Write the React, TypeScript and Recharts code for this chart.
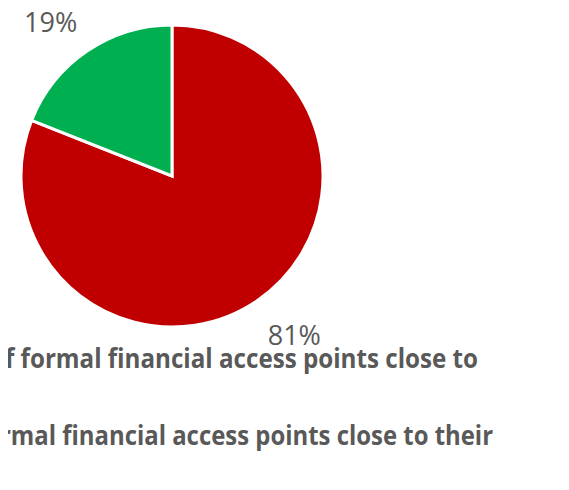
import { PieChart, Pie, Cell, Legend } from 'recharts'

const sliceNames = ['Red share', 'Green share']
const sliceValues = [81, 19]
const sliceColors = ['#C00000', '#00B050']
const legendLabels = [
  'of formal financial access points close to',
  'rmal financial access points close to their',
]

const data = sliceNames.map((name, i) => ({ name, value: sliceValues[i] }))

const RADIAN = Math.PI / 180

function PctLabel(props: any) {
  const { cx, cy, midAngle, outerRadius, value } = props
  const r = outerRadius + 14
  const cos = Math.cos(-midAngle * RADIAN)
  const sin = Math.sin(-midAngle * RADIAN)
  const x = cx + r * cos + (cos >= 0 ? 3 : -2)
  const y = cy + r * sin + (sin >= 0 ? 9 : -8)
  return (
    <text
      x={x}
      y={y}
      textAnchor={cos >= 0 ? 'start' : 'end'}
      dominantBaseline={sin >= 0 ? 'hanging' : 'auto'}
      fill="#595959"
      fontSize={27}
      fontFamily="'Open Sans', sans-serif"
    >
      {`${value}%`}
    </text>
  )
}

function LegendLines() {
  return (
    <svg width={569} height={150} style={{ display: 'block', overflow: 'hidden' }}>
      <text
        x={-10}
        y={28}
        fill="#595959"
        fontSize={26}
        fontWeight="bold"
        fontFamily="'Open Sans', sans-serif"
        textLength={488}
        lengthAdjust="spacingAndGlyphs"
      >
        {legendLabels[0]}
      </text>
      <text
        x={0}
        y={105}
        fill="#595959"
        fontSize={26}
        fontWeight="bold"
        fontFamily="'Open Sans', sans-serif"
        textLength={493}
        lengthAdjust="spacingAndGlyphs"
      >
        {legendLabels[1]}
      </text>
    </svg>
  )
}

export default function App() {
  return (
    <div
      style={{
        margin: -8,
        width: 569,
        height: 490,
        overflow: 'hidden',
        background: '#fff',
        position: 'relative',
      }}
    >
      <PieChart width={569} height={490} margin={{ top: 0, right: 0, bottom: 0, left: 0 }}>
        <Pie
          data={data}
          dataKey="value"
          nameKey="name"
          cx={172}
          cy={176}
          outerRadius={151}
          startAngle={90}
          endAngle={-270}
          stroke="#ffffff"
          strokeWidth={3}
          label={PctLabel}
          labelLine={false}
          isAnimationActive={false}
        >
          {data.map((d, i) => (
            <Cell key={d.name} fill={sliceColors[i]} />
          ))}
        </Pie>
        <Legend
          content={<LegendLines />}
          wrapperStyle={{ left: 0, top: 340, width: 569, height: 150 }}
        />
      </PieChart>
    </div>
  )
}
